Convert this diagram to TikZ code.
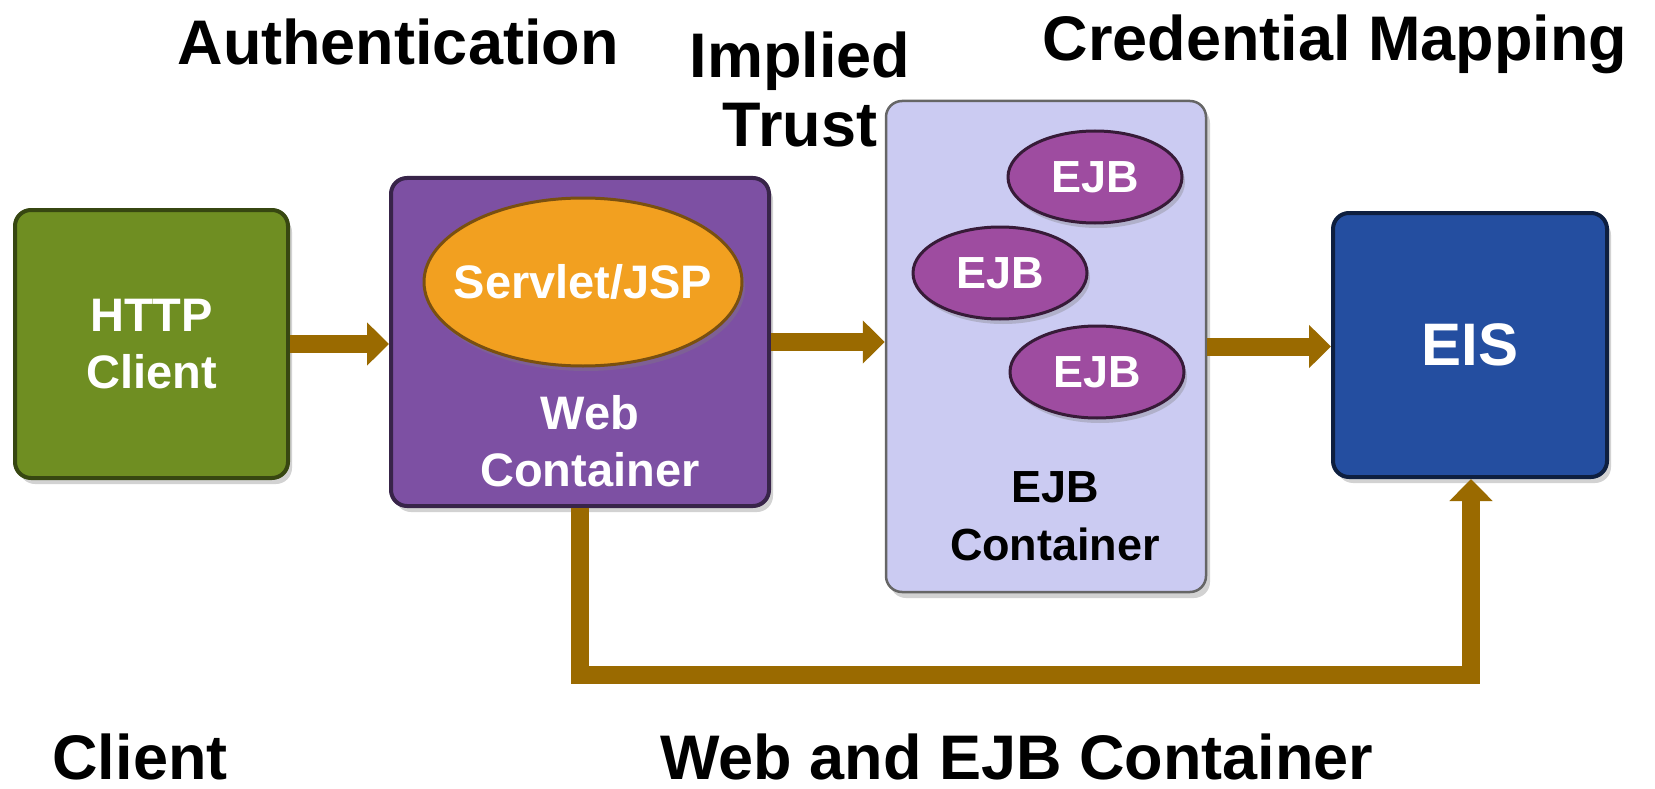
\documentclass[tikz,border=0pt]{standalone}
\usepackage{fontspec}
\setmainfont{Liberation Sans}
\usetikzlibrary{arrows.meta,shapes.geometric,shadows}

\definecolor{clientgreen}{RGB}{111,142,34}
\definecolor{webpurple}{RGB}{125,80,163}
\definecolor{servletorange}{RGB}{242,160,32}
\definecolor{ejbbg}{RGB}{203,203,242}
\definecolor{ejbbean}{RGB}{158,76,160}
\definecolor{eisblue}{RGB}{36,78,160}
\definecolor{flowbrown}{RGB}{154,106,0}

\begin{document}
\begin{tikzpicture}[x=1pt,y=-1pt,
  box/.style={rectangle, rounded corners=16pt, line width=4pt, inner sep=0pt,
    drop shadow={shadow xshift=4pt, shadow yshift=-6pt, opacity=0.35}},
  bean/.style={ellipse, inner sep=0pt, line width=3pt,
    drop shadow={shadow xshift=3pt, shadow yshift=-5pt, opacity=0.35}},
  title/.style={font=\bfseries\fontsize{63}{69}\selectfont, anchor=base, inner sep=0pt},
  boxtext/.style={text=white, font=\bfseries\fontsize{47}{57}\selectfont, align=center, inner sep=0pt},
  beantext/.style={text=white, font=\bfseries\fontsize{45}{45}\selectfont},
  flow/.style={draw=flowbrown, line width=18pt, -{Triangle[length=22pt,width=42pt]}, line join=miter},
]
\useasboundingbox (0,0) rectangle (1655,789);
\fill[white] (0,0) rectangle (1655,789);

% client tier
\node[box, fill=clientgreen, draw=clientgreen!50!black,
      minimum width=273pt, minimum height=268pt, boxtext] (client) at (151.5,344) {HTTP\\Client};

% web container with its servlet/JSP component
\node[box, fill=webpurple, draw=webpurple!45!black,
      minimum width=378pt, minimum height=328pt] (web) at (580,342) {};
\node[bean, fill=servletorange, draw=servletorange!50!black,
      minimum width=318pt, minimum height=168pt,
      label={[boxtext]center:Servlet/JSP}] (servlet) at (583,282) {};
\node[boxtext] (weblbl) at (590,441) {Web\\Container};

% EJB container with three beans
\node[box, fill=ejbbg, draw=black!60, line width=2.5pt,
      minimum width=320pt, minimum height=491pt] (ejbc) at (1046,346.5) {};
\node[bean, fill=ejbbean, draw=ejbbean!35!black, minimum width=174pt, minimum height=92pt, beantext] (ejb1) at (1095,177) {EJB};
\node[bean, fill=ejbbean, draw=ejbbean!35!black, minimum width=174pt, minimum height=92pt, beantext] (ejb2) at (1000,273) {EJB};
\node[bean, fill=ejbbean, draw=ejbbean!35!black, minimum width=174pt, minimum height=92pt, beantext] (ejb3) at (1097,372) {EJB};
\node[font=\bfseries\fontsize{45}{58}\selectfont, align=center, inner sep=0pt] (ejblbl) at (1055,516) {EJB\\Container};

% enterprise information system
\node[box, fill=eisblue, draw=eisblue!40!black, minimum width=274pt, minimum height=264pt,
      text=white, font=\bfseries\fontsize{60}{60}\selectfont] (eis) at (1470,345) {EIS};

% request flow
\coordinate (loopR) at (1471,675);
\draw[flow] (client.east) -- (client.east -| web.west);
\draw[flow] (web.east) -- (web.east -| ejbc.west);
\draw[flow] (ejbc.east) -- (ejbc.east -| eis.west);
\draw[flow] (web.south) |- (loopR) -- (eis.south -| loopR);

% headings
\node[title] (authn) at (398,65) {Authentication};
\node[title, align=center, anchor=center] (trust) at (800,89) {Implied\\Trust};
\node[title] (credmap) at (1335,61) {Credential Mapping};
\node[title] (clientlbl) at (140,779) {Client};
\node[title] (tierlbl) at (1017,779) {Web and EJB Container};
\end{tikzpicture}
\end{document}
